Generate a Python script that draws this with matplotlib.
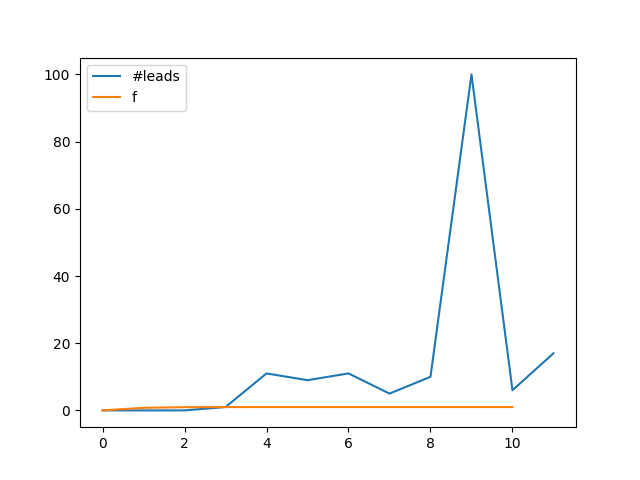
import matplotlib.pyplot as plt

x_leads = [0, 1, 2, 3, 4, 5, 6, 7, 8, 9, 10, 11]
leads = [0, 0, 0, 1, 11, 9, 11, 5, 10, 100, 6, 17]

x_f = [0, 1, 2, 3, 4, 5, 6, 7, 8, 9, 10]
f = [0, 0.76, 0.96, 0.995, 1, 1, 1, 1, 1, 1, 1]

fig, ax = plt.subplots(figsize=(6.4, 4.8), dpi=100)
ax.plot(x_leads, leads, label='#leads')
ax.plot(x_f, f, label='f')
ax.legend(loc='upper left')

plt.savefig('out.png')
